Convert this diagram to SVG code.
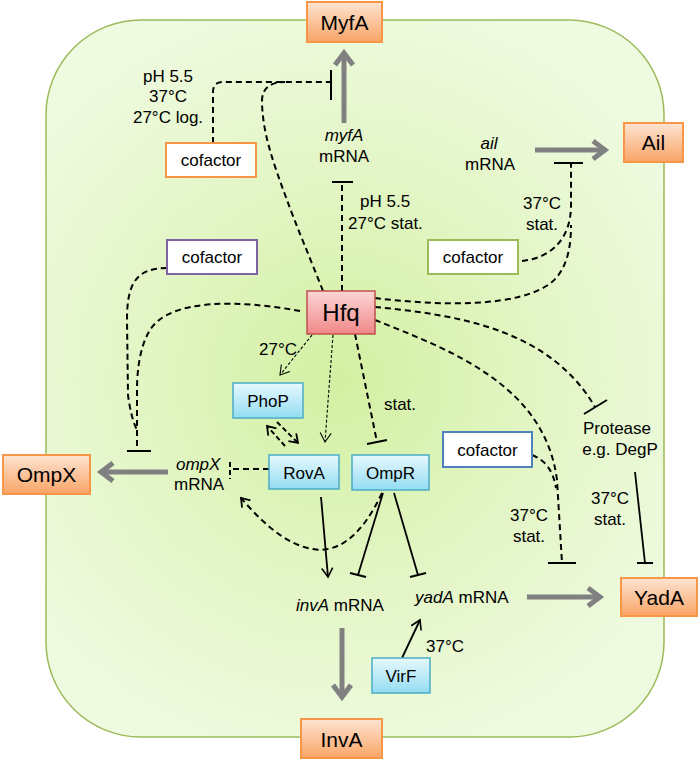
<svg xmlns="http://www.w3.org/2000/svg" width="700" height="761" viewBox="0 0 700 761">
<defs>
<radialGradient id="cellG" cx="340" cy="380" r="400" gradientUnits="userSpaceOnUse">
<stop offset="0" stop-color="#d2f0a2"/>
<stop offset="0.55" stop-color="#e4f6c8"/>
<stop offset="1" stop-color="#effbe1"/>
</radialGradient>
<linearGradient id="orG" x1="0" y1="0" x2="0" y2="1">
<stop offset="0" stop-color="#fde4d2"/>
<stop offset="1" stop-color="#f9a466"/>
</linearGradient>
<linearGradient id="blG" x1="0" y1="0" x2="0" y2="1">
<stop offset="0" stop-color="#e6f9fe"/>
<stop offset="1" stop-color="#94dcf2"/>
</linearGradient>
<linearGradient id="rdG" x1="0" y1="0" x2="0" y2="1">
<stop offset="0" stop-color="#fcd6d6"/>
<stop offset="1" stop-color="#f08888"/>
</linearGradient>
<marker id="ga" markerUnits="userSpaceOnUse" markerWidth="30" markerHeight="30" refX="0" refY="0" orient="auto" overflow="visible">
<path d="M-12,-9 L0,0 L-12,9" fill="none" stroke="#808080" stroke-width="5"/>
</marker>
<marker id="ba" markerUnits="userSpaceOnUse" markerWidth="20" markerHeight="20" refX="0" refY="0" orient="auto" overflow="visible">
<path d="M-9,-5.5 L0,0 L-9,5.5" fill="none" stroke="#000" stroke-width="1.6"/>
</marker>
<marker id="da" markerUnits="userSpaceOnUse" markerWidth="20" markerHeight="20" refX="0" refY="0" orient="auto" overflow="visible">
<path d="M-9,-5.5 L0,0 L-9,5.5" fill="none" stroke="#000" stroke-width="1.1"/>
</marker>
<marker id="dd" markerUnits="userSpaceOnUse" markerWidth="20" markerHeight="20" refX="0" refY="0" orient="auto" overflow="visible">
<path d="M-8,-5.5 L0,0 L-8,5.5" fill="none" stroke="#000" stroke-width="1.8"/>
</marker>
</defs>
<style>
text{font-family:"Liberation Sans",Arial,sans-serif;font-size:17px;fill:#000}
.c{text-anchor:middle}
.i{font-style:italic}
.big{font-size:21px}
.hfq{font-size:24px}
.prot rect{fill:url(#orG);stroke:#f79646;stroke-width:2}
.tf rect{fill:url(#blG);stroke:#4bacc6;stroke-width:1.5}
.cof rect{fill:#fff;stroke-width:2}
.gray{stroke:#808080;stroke-width:5;fill:none;marker-end:url(#ga)}
.dash{stroke:#000;stroke-width:2;fill:none;stroke-dasharray:6,4}
.dot{stroke:#000;stroke-width:1.1;fill:none;stroke-dasharray:3,2}
.sol{stroke:#000;stroke-width:1.8;fill:none}
.bar{stroke:#000;stroke-width:2;fill:none}
</style>
<rect id="cell" x="46" y="20" width="618" height="717" rx="95" fill="url(#cellG)" stroke="#9bbb59" stroke-width="1.5"/>

<g id="connectors">
<!-- gray translation arrows -->
<line class="gray" x1="344" y1="123" x2="344" y2="53"/>
<line class="gray" x1="535" y1="150" x2="605" y2="150"/>
<line class="gray" x1="168" y1="472" x2="101" y2="472"/>
<line class="gray" x1="527" y1="597" x2="600" y2="597"/>
<line class="gray" x1="342" y1="628" x2="342" y2="697"/>

<!-- MyfA inhibition -->
<path class="dash" d="M213,143 L213,92 Q213,82 223,82 L331,82"/>
<path class="dash" d="M323,291 C310,258 296,225 287,200 C272,160 262,130 262,100 Q263,82 285,82"/>
<line class="bar" x1="331" y1="70" x2="331" y2="100"/>

<!-- Hfq -> myfA mRNA -->
<line class="dash" x1="342" y1="291" x2="342" y2="183"/>
<line class="bar" x1="332" y1="182" x2="353" y2="182"/>

<!-- Ail inhibition -->
<path class="dash" d="M522,261 C550,258 571,240 571,205 L571,164"/>
<path class="dash" d="M375,298 C440,306 520,308 552,282 C568,268 571,245 571,225"/>
<line class="bar" x1="554" y1="163" x2="583" y2="163"/>

<!-- OmpX inhibition -->
<path class="dash" d="M167,268 C135,268 127,285 127,320 L128,395 Q131,418 137,430"/>
<path class="dash" d="M300,311 C240,300 170,298 150,330 C140,346 137,370 137,390 L137,451"/>
<line class="bar" x1="127" y1="451" x2="151" y2="451"/>

<!-- RovA -| ompX -->
<line class="dash" x1="269" y1="469" x2="232" y2="469"/>
<line class="dash" x1="230" y1="462" x2="230" y2="479" style="stroke-dasharray:5,3"/>

<!-- Hfq -| OmpR -->
<line class="dash" x1="355" y1="334" x2="377" y2="442"/>
<line class="bar" x1="367" y1="444" x2="387" y2="440"/>

<!-- Hfq -| Protease -->
<path class="dash" d="M375,307 C460,315 550,330 595,407"/>
<line class="bar" x1="584" y1="414" x2="607" y2="400"/>

<!-- Hfq -| YadA -->
<path class="dash" d="M375,320 C450,350 545,385 557,480 L562,563"/>
<path class="dash" d="M532,455 C545,460 553,470 556,488"/>
<line class="bar" x1="548" y1="563" x2="576" y2="563"/>

<!-- Protease -| YadA -->
<line class="sol" x1="635" y1="472" x2="645" y2="563"/>
<line class="bar" x1="637" y1="563" x2="653" y2="563"/>

<!-- OmpR -| invA, yadA -->
<line class="sol" x1="383" y1="493" x2="358" y2="575"/>
<line class="bar" x1="350" y1="573" x2="366" y2="577"/>
<line class="sol" x1="394" y1="493" x2="418" y2="575"/>
<line class="bar" x1="410" y1="577" x2="426" y2="573"/>

<!-- OmpR -> ompX -->
<path class="dash" d="M382,493 C360,540 335,553 313,549 C285,545 260,520 241,498" marker-end="url(#dd)"/>

<!-- RovA -> invA -->
<line class="sol" x1="321" y1="497" x2="328" y2="577" marker-end="url(#ba)"/>

<!-- VirF -> yadA -->
<line class="sol" x1="402" y1="658" x2="420" y2="620" marker-end="url(#ba)"/>

<!-- Hfq -> PhoP, RovA (dotted) -->
<line class="dot" x1="312" y1="335" x2="280" y2="375" marker-end="url(#da)"/>
<line class="dot" x1="333" y1="335" x2="325" y2="442" marker-end="url(#da)"/>

<!-- PhoP <-> RovA -->
<line class="dash" x1="285" y1="446" x2="267" y2="426" style="stroke-dasharray:5,3" marker-end="url(#dd)"/>
<line class="dash" x1="277" y1="422" x2="298" y2="443" style="stroke-dasharray:5,3" marker-end="url(#dd)"/>
</g>

<g id="MyfA" class="prot"><rect x="307" y="2" width="75" height="40"/><text class="c big" x="344.5" y="30">MyfA</text></g>
<g id="Ail" class="prot"><rect x="624" y="123" width="59" height="39"/><text class="c big" x="653.5" y="150">Ail</text></g>
<g id="OmpX" class="prot"><rect x="3" y="455" width="87" height="39"/><text class="c big" x="46.5" y="482">OmpX</text></g>
<g id="YadA" class="prot"><rect x="621" y="578" width="76" height="38"/><text class="c big" x="659" y="605">YadA</text></g>
<g id="InvA" class="prot"><rect x="301" y="719" width="81" height="39"/><text class="c big" x="341.5" y="747">InvA</text></g>

<g id="Hfq"><rect x="307" y="291" width="68" height="43" fill="url(#rdG)" stroke="#c0504d" stroke-width="1.5"/><text class="c hfq" x="341" y="321">Hfq</text></g>

<g id="PhoP" class="tf"><rect x="233" y="383" width="70" height="35"/><text class="c" x="268" y="407">PhoP</text></g>
<g id="RovA" class="tf"><rect x="269" y="455" width="70" height="34"/><text class="c" x="304" y="479">RovA</text></g>
<g id="OmpR" class="tf"><rect x="352" y="455" width="77" height="35"/><text class="c" x="390.5" y="479">OmpR</text></g>
<g id="VirF" class="tf"><rect x="372" y="658" width="58" height="35"/><text class="c" x="401" y="682">VirF</text></g>

<g id="cofactor-myfA" class="cof"><rect x="166" y="143" width="90" height="34" stroke="#f79646"/><text class="c" x="211" y="166">cofactor</text></g>
<g id="cofactor-ompX" class="cof"><rect x="167" y="240" width="90" height="34" stroke="#8064a2"/><text class="c" x="212" y="263">cofactor</text></g>
<g id="cofactor-ail" class="cof"><rect x="428" y="240" width="90" height="34" stroke="#9bbb59"/><text class="c" x="473" y="263">cofactor</text></g>
<g id="cofactor-yadA" class="cof"><rect x="443" y="432" width="89" height="35" stroke="#4f81bd"/><text class="c" x="487.5" y="456">cofactor</text></g>

<g id="myfA-mRNA"><text class="c i" x="344" y="141">myfA</text><text class="c" x="344" y="162">mRNA</text></g>
<g id="ail-mRNA"><text class="c i" x="489" y="149">ail</text><text class="c" x="490" y="170">mRNA</text></g>
<g id="ompX-mRNA"><text class="i" x="176" y="470">ompX</text><text x="174" y="490">mRNA</text></g>
<g id="invA-mRNA"><text x="296" y="611"><tspan class="i">invA</tspan> mRNA</text></g>
<g id="yadA-mRNA"><text x="415" y="603"><tspan class="i">yadA</tspan> mRNA</text></g>
<g id="Protease"><text class="c" x="617" y="434">Protease</text><text class="c" x="620" y="455">e.g. DegP</text></g>

<g id="labels">
<text class="c" x="168" y="82">pH 5.5</text>
<text class="c" x="168" y="102">37°C</text>
<text class="c" x="168" y="123">27°C log.</text>
<text x="360" y="207">pH 5.5</text>
<text x="348" y="229">27°C stat.</text>
<text class="c" x="542" y="209">37°C</text>
<text class="c" x="542" y="230">stat.</text>
<text class="c" x="278" y="355">27°C</text>
<text class="c" x="400" y="410">stat.</text>
<text class="c" x="529" y="521">37°C</text>
<text class="c" x="529" y="542">stat.</text>
<text class="c" x="610" y="504">37°C</text>
<text class="c" x="610" y="525">stat.</text>
<text x="426" y="652">37°C</text>
</g>
</svg>
